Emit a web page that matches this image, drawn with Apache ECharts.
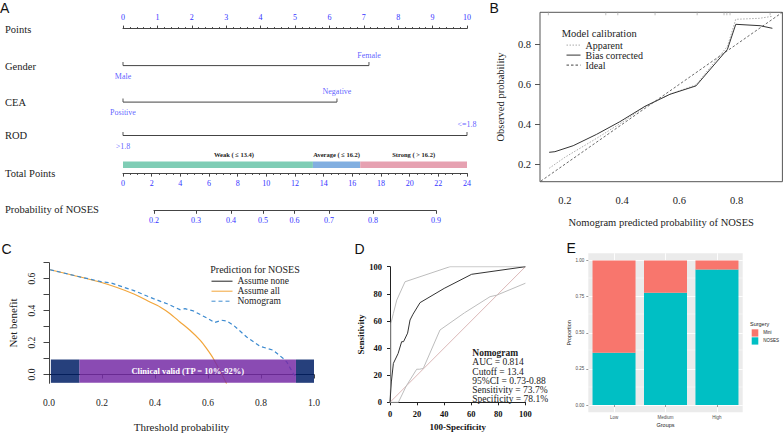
<!DOCTYPE html>
<html><head><meta charset="utf-8">
<script src="https://cdn.jsdelivr.net/npm/echarts@6/dist/echarts.min.js"></script>
<style>html,body{margin:0;padding:0;background:#fff}#c{width:784px;height:434px}</style>
</head><body><div id="c"></div>
<script>
const SERIF = '"Liberation Serif", "Times New Roman", serif';
const SANS = '"Liberation Sans", Arial, sans-serif';
const BLUE = '#3434ff';
const AX = '#444';

// ---------- Panel A: nomogram data ----------
const pointsRange = [0, 10];
const totalRange = [0, 24];
const genderLevels = ['Male', 'Female'];
const genderPoints = [0, 7.15];
const ceaLevels = ['Positive', 'Negative'];
const ceaPoints = [0, 6.22];
const rodLevels = ['>1.8', '<=1.8'];
const rodPoints = [0, 10];
const riskLabels = ['Weak ( \u2264 13.4)', 'Average ( \u2264 16.2)', 'Strong ( > 16.2)'];
const riskBreaks = [0, 13.25, 16.55, 24];
const riskColors = ['#7fcdb5', '#82afe0', '#e6a1b1'];
const probLabels = ['0.2', '0.3', '0.4', '0.5', '0.6', '0.7', '0.8', '0.9'];
const probTotalPoints = [2.16, 5.09, 7.54, 9.77, 11.97, 14.37, 17.44, 21.84];

// ---------- Panel B: calibration ----------
const calTicks = [0.2, 0.4, 0.6, 0.8];
const calPredApp = [0.145, 0.2, 0.311, 0.4, 0.48, 0.567, 0.658, 0.768, 0.797, 0.88, 0.925];
const calObsApp  = [0.18, 0.235, 0.33, 0.41, 0.488, 0.55, 0.597, 0.79, 0.925, 0.93, 0.94];
const calPredBias = [0.145, 0.165, 0.229, 0.311, 0.392, 0.48, 0.567, 0.658, 0.768, 0.797, 0.882, 0.925];
const calObsBias  = [0.26, 0.263, 0.293, 0.35, 0.413, 0.49, 0.55, 0.592, 0.775, 0.9, 0.893, 0.88];
const calRug = [0.142, 0.343, 0.385, 0.515, 0.662, 0.756, 0.766, 0.777, 0.917];

// ---------- Panel C: decision curve ----------
const dcaThrAll = [0.004, 0.192, 0.318, 0.381, 0.419, 0.457, 0.494, 0.532, 0.57, 0.595, 0.62, 0.67];
const dcaNbAll  = [0.656, 0.579, 0.506, 0.454, 0.423, 0.381, 0.329, 0.277, 0.215, 0.162, 0.1, -0.056];
const dcaThrNomo = [0.004, 0.12, 0.2, 0.23, 0.318, 0.394, 0.45, 0.494, 0.513, 0.545, 0.6, 0.625, 0.65, 0.67, 0.695, 0.746, 0.796, 0.846, 0.884, 0.897, 0.922, 0.93];
const dcaNbNomo  = [0.656, 0.61, 0.58, 0.575, 0.527, 0.475, 0.44, 0.406, 0.412, 0.398, 0.35, 0.325, 0.34, 0.335, 0.31, 0.235, 0.177, 0.152, 0.1, 0.079, 0.006, -0.01];
const dcaNone = [[0, 0], [1, 0]];
const bandEdges = [0.007, 0.115, 0.932, 1.0];
const bandRange = [-0.052, 0.094];
const bandText = 'Clinical valid (TP = 10%-92%)';

// ---------- Panel D: ROC ----------
const rocFpr  = [0, 1, 2.5, 6, 8.6, 10, 13, 14.8, 17, 22.2, 40, 60.3, 100];
const rocSens = [0, 15, 28.7, 36, 44.7, 44.7, 51, 60.7, 65, 73.5, 84, 94.4, 100];
const rocUpFpr  = [0, 0.7, 0.7, 2.5, 5, 11.1, 44.3, 100];
const rocUpSens = [0, 20, 58.3, 65.6, 75.4, 88.9, 100, 100];
const rocLoFpr  = [0, 6.2, 12, 19.7, 22, 24.6, 36.9, 55, 73.9, 78.8, 100];
const rocLoSens = [0, 0, 12, 24.4, 24.4, 25, 53.3, 66, 77.9, 79, 87.8];
const rocText = ['AUC = 0.814', 'Cutoff = 13.4', '95%CI = 0.73-0.88', 'Sensitivity = 73.7%', 'Specificity = 78.1%'];

// ---------- Panel E: stacked proportions ----------
const groups = ['Low', 'Medium', 'High'];
const propNOSES = [0.362, 0.777, 0.938];
const propMini  = [0.638, 0.223, 0.062];
const propTicks = [0, 0.25, 0.5, 0.75, 1];
const propMinor = [0.125, 0.375, 0.625, 0.875];

const zip = (a, b) => a.map((v, i) => [v, b[i]]);

const grids = [], xAxes = [], yAxes = [], series = [], graphics = [], legends = [];
function addGrid(g, xa, ya) {
  grids.push(Object.assign({ containLabel: false }, g));
  const i = grids.length - 1;
  xAxes.push(Object.assign({ gridIndex: i, splitLine: { show: false } }, xa));
  yAxes.push(Object.assign({ gridIndex: i, splitLine: { show: false } }, ya));
  return i;
}
function txt(x, y, text, size, opts) {
  graphics.push({ type: 'text', x: x, y: y, silent: true, style: Object.assign({ text: text, fontSize: size, fontFamily: SERIF, fill: '#222', align: 'left', verticalAlign: 'middle' }, opts || {}) });
}
const hiddenSym = { color: 'rgba(0,0,0,0)', borderColor: 'rgba(0,0,0,0)', borderWidth: 0, opacity: 0 };

// ----- Panel A layout -----
const NL = 123, NW = 344;
const axLine = { show: true, lineStyle: { color: AX, width: 1 } };
const blueLbl = { color: BLUE, fontFamily: SERIF, fontSize: 8 };

addGrid({ left: NL, width: NW, top: 27.6, height: 1 },
  { type: 'value', position: 'top', min: pointsRange[0], max: pointsRange[1], interval: 1, axisLine: axLine,
    axisTick: { show: true, length: 3, lineStyle: { color: AX } },
    minorTick: { show: true, splitNumber: 5, length: 1.5, lineStyle: { color: AX } },
    axisLabel: Object.assign({ margin: 6 }, blueLbl) },
  { type: 'value', show: false, min: 0, max: 1 });

function varRow(lineY, pts, levels) {
  const gi = addGrid({ left: NL, width: NW, top: lineY - 5, height: 10 },
    { type: 'value', min: pointsRange[0], max: pointsRange[1], show: false },
    { type: 'value', min: -1, max: 1, show: false });
  series.push({ type: 'line', xAxisIndex: gi, yAxisIndex: gi, data: pts.map(p => [p, 0]), symbol: 'rect', symbolSize: [0.9, 3.5], symbolOffset: [0, -1.75], showSymbol: true, lineStyle: { color: AX, width: 1 }, itemStyle: { color: AX }, silent: true });
  series.push({ type: 'scatter', xAxisIndex: gi, yAxisIndex: gi, symbolSize: 0.01, itemStyle: { color: 'rgba(0,0,0,0)' }, silent: true,
    data: pts.map((p, k) => ({ value: [p, 0], label: { position: k % 2 ? 'top' : 'bottom' } })),
    label: Object.assign({ show: true, distance: 6.5, formatter: d => levels[d.dataIndex] }, blueLbl) });
}
varRow(65.6, genderPoints, genderLevels);
varRow(102.1, ceaPoints, ceaLevels);
varRow(135.5, rodPoints, rodLevels);

const gBar = addGrid({ left: NL, width: NW, top: 161.4, height: 6.6 },
  { type: 'value', min: totalRange[0], max: totalRange[1], show: false },
  { type: 'category', data: ['risk'], show: false });
riskLabels.forEach((name, k) => series.push({
  type: 'bar', stack: 'risk', xAxisIndex: gBar, yAxisIndex: gBar, barWidth: '100%', silent: true,
  data: [riskBreaks[k + 1] - riskBreaks[k]], itemStyle: { color: riskColors[k] },
  label: { show: true, position: 'top', distance: 3.5, formatter: name, fontFamily: SERIF, fontWeight: 'bold', fontSize: 6.5, color: '#222', offset: k === 0 ? [16, 0] : [0, 0] }
}));

addGrid({ left: NL, width: NW, top: 172.2, height: 1 },
  { type: 'value', position: 'bottom', min: totalRange[0], max: totalRange[1], interval: 2, axisLine: axLine,
    axisTick: { show: true, length: 3.4, lineStyle: { color: AX } },
    minorTick: { show: true, splitNumber: 4, length: 1.7, lineStyle: { color: AX } },
    axisLabel: Object.assign({ margin: 6.5 }, blueLbl) },
  { type: 'value', show: false, min: 0, max: 1 });

const pxPerTP = NW / (totalRange[1] - totalRange[0]);
const p0 = probTotalPoints[0], p1 = probTotalPoints[probTotalPoints.length - 1];
addGrid({ left: NL + p0 * pxPerTP, width: (p1 - p0) * pxPerTP, top: 209.4, height: 1 },
  { type: 'value', position: 'bottom', min: p0, max: p1, axisLine: axLine,
    axisTick: { show: true, length: 3.4, customValues: probTotalPoints, lineStyle: { color: AX } },
    axisLabel: Object.assign({ margin: 6, customValues: probTotalPoints, formatter: v => {
      let best = 0; probTotalPoints.forEach((t, i) => { if (Math.abs(t - v) < Math.abs(probTotalPoints[best] - v)) best = i; }); return probLabels[best]; } }, blueLbl) },
  { type: 'value', show: false, min: 0, max: 1 });

[['Points', 29.3], ['Gender', 66.3], ['CEA', 102.8], ['ROD', 135.5], ['Total Points', 173.5], ['Probability of NOSES', 209.7]]
  .forEach(r => txt(5, r[1], r[0], 10.5));

// ----- Panel B -----
const gB = addGrid({ left: 540, top: 12.3, width: 242.4, height: 169.4, show: true, borderColor: '#555', borderWidth: 1, backgroundColor: 'rgba(0,0,0,0)' },
  { type: 'value', min: 0.113, max: 0.96, axisLine: { show: false }, axisTick: { show: false },
    axisLabel: { customValues: calTicks, formatter: v => v.toFixed(1), fontFamily: SERIF, fontSize: 10.5, color: '#222', margin: 13 },
    name: 'Nomogram predicted probability of NOSES', nameLocation: 'middle', nameGap: 35.5, nameTextStyle: { fontFamily: SERIF, fontSize: 10.5, color: '#222' } },
  { type: 'value', min: 0.113, max: 0.96, axisLine: { show: false },
    axisTick: { show: true, customValues: calTicks, length: 5, lineStyle: { color: '#555' } },
    axisLabel: { customValues: calTicks, formatter: v => v.toFixed(1), fontFamily: SERIF, fontSize: 10.5, color: '#222', margin: 9 },
    name: 'Observed probability', nameLocation: 'middle', nameRotate: 90, nameGap: 34, nameTextStyle: { fontFamily: SERIF, fontSize: 10.5, color: '#222' } });
series.push({ name: 'Apparent', type: 'line', xAxisIndex: gB, yAxisIndex: gB, data: zip(calPredApp, calObsApp), symbol: 'none', lineStyle: { color: '#aaa', width: 1, type: [1.5, 1.5] }, itemStyle: { color: '#aaa' }, silent: true });
series.push({ name: 'Bias corrected', type: 'line', xAxisIndex: gB, yAxisIndex: gB, data: zip(calPredBias, calObsBias), symbol: 'none', lineStyle: { color: '#333', width: 1 }, itemStyle: { color: '#333' }, silent: true });
series.push({ name: 'Ideal', type: 'line', xAxisIndex: gB, yAxisIndex: gB, data: [[0, 0], [1, 1]], symbol: 'none', clip: true, lineStyle: { color: '#444', width: 0.8, type: [2.5, 2] }, itemStyle: { color: '#444' }, silent: true });
series.push({ type: 'scatter', xAxisIndex: gB, yAxisIndex: gB, data: calRug.map(v => [v, 0.96]), symbol: 'rect', symbolSize: [0.8, 3.5], symbolOffset: [0, 1.2], itemStyle: { color: '#999' }, silent: true });
legends.push({ data: ['Apparent', 'Bias corrected', 'Ideal'], orient: 'vertical', left: 566, top: 40.1, padding: 0, itemGap: 0, itemWidth: 14, itemHeight: 6,
  itemStyle: hiddenSym, lineStyle: { width: 1 }, textStyle: { fontFamily: SERIF, fontSize: 10, color: '#222', lineHeight: 8.4 }, selectedMode: false });
txt(561.7, 33.3, 'Model calibration', 10.5);

// ----- Panel C -----
const gC = addGrid({ left: 49, top: 262.7, width: 265, height: 120.6 },
  { type: 'value', min: 0, max: 1, interval: 0.2, offset: 7.5, axisLine: axLine,
    axisTick: { show: true, length: 4, lineStyle: { color: AX } },
    axisLabel: { formatter: v => v.toFixed(1), fontFamily: SERIF, fontSize: 9.5, color: '#222', margin: 7 },
    name: 'Threshold probability', nameLocation: 'middle', nameGap: 31, nameTextStyle: { fontFamily: SERIF, fontSize: 11, color: '#222' } },
  { type: 'value', min: -0.055, max: 0.7, axisLine: axLine,
    axisTick: { show: true, length: 5.5, customValues: [0, 0.1, 0.2, 0.3, 0.4, 0.5, 0.6, 0.7], lineStyle: { color: AX } },
    axisLabel: { customValues: [0, 0.2, 0.4, 0.6], formatter: v => v.toFixed(1), rotate: 90, fontFamily: SERIF, fontSize: 9.5, color: '#222', margin: 12 },
    name: 'Net benefit', nameLocation: 'middle', nameRotate: 90, nameGap: 31, nameTextStyle: { fontFamily: SERIF, fontSize: 11, color: '#222' } });
series.push({ name: 'Assume none', type: 'line', xAxisIndex: gC, yAxisIndex: gC, data: dcaNone, symbol: 'none', lineStyle: { color: '#222', width: 1 }, itemStyle: { color: '#222' }, silent: true, z: 2 });
series.push({ name: 'Assume all', type: 'line', xAxisIndex: gC, yAxisIndex: gC, data: zip(dcaThrAll, dcaNbAll), symbol: 'none', smooth: 0.2, lineStyle: { color: '#f2a53a', width: 1.2 }, itemStyle: { color: '#f2a53a' }, silent: true, z: 2 });
series.push({ name: 'Nomogram', type: 'line', xAxisIndex: gC, yAxisIndex: gC, data: zip(dcaThrNomo, dcaNbNomo), symbol: 'none', lineStyle: { color: '#3d8bd0', width: 1.2, type: [4, 3] }, itemStyle: { color: '#3d8bd0' }, silent: true, z: 2 });
const navy = 'rgba(0,30,101,0.85)', purple = 'rgba(118,44,166,0.85)';
series.push({ type: 'line', xAxisIndex: gC, yAxisIndex: gC, data: [], z: 5, silent: true,
  markArea: { silent: true, z: 6, data: [
    [{ xAxis: bandEdges[0], yAxis: bandRange[0], itemStyle: { color: navy } }, { xAxis: bandEdges[1], yAxis: bandRange[1] }],
    [{ xAxis: bandEdges[1], yAxis: bandRange[0], itemStyle: { color: purple }, label: { show: true, position: 'inside', formatter: bandText, color: '#fff', fontFamily: SERIF, fontWeight: 'bold', fontSize: 8.5 } }, { xAxis: bandEdges[2], yAxis: bandRange[1] }],
    [{ xAxis: bandEdges[2], yAxis: bandRange[0], itemStyle: { color: navy } }, { xAxis: bandEdges[3], yAxis: bandRange[1] }]
  ], label: { show: false } } });
legends.push({ data: ['Assume none', 'Assume all', 'Nomogram'], orient: 'vertical', left: 211, top: 276.2, padding: 0, itemGap: 0, itemWidth: 21, itemHeight: 6,
  itemStyle: hiddenSym, lineStyle: { width: 1 }, textStyle: { fontFamily: SERIF, fontSize: 9.5, color: '#222', lineHeight: 9 }, selectedMode: false });
txt(255, 269, 'Prediction for NOSES', 10, { align: 'center' });

// ----- Panel D -----
const bold9 = { fontFamily: SERIF, fontSize: 8.5, fontWeight: 'bold', color: '#111' };
const gD = addGrid({ left: 390, top: 266.7, width: 135.4, height: 135.6 },
  { type: 'value', min: 0, max: 100, interval: 20, offset: 4, axisLine: { show: true, lineStyle: { color: '#222' } },
    axisTick: { show: true, length: 3, lineStyle: { color: '#222' } }, axisLabel: Object.assign({ margin: 3.5 }, bold9),
    name: '100-Specificity', nameLocation: 'middle', nameGap: 16, nameTextStyle: Object.assign({}, bold9, { fontSize: 9 }) },
  { type: 'value', min: 0, max: 100, interval: 20, offset: 3.5, axisLine: { show: true, lineStyle: { color: '#222' } },
    axisTick: { show: true, length: 3, lineStyle: { color: '#222' } }, axisLabel: Object.assign({ margin: 4.5 }, bold9),
    name: 'Sensitivity', nameLocation: 'middle', nameRotate: 90, nameGap: 14, nameTextStyle: Object.assign({}, bold9, { fontSize: 9 }) });
series.push({ type: 'line', xAxisIndex: gD, yAxisIndex: gD, data: [[0, 0], [100, 100]], symbol: 'none', lineStyle: { color: '#dbb7b7', width: 1 }, silent: true });
series.push({ type: 'line', xAxisIndex: gD, yAxisIndex: gD, data: zip(rocUpFpr, rocUpSens), symbol: 'none', lineStyle: { color: '#bdbdbd', width: 1 }, silent: true });
series.push({ type: 'line', xAxisIndex: gD, yAxisIndex: gD, data: zip(rocLoFpr, rocLoSens), symbol: 'none', lineStyle: { color: '#bdbdbd', width: 1 }, silent: true });
series.push({ type: 'line', xAxisIndex: gD, yAxisIndex: gD, data: zip(rocFpr, rocSens), symbol: 'none', lineStyle: { color: '#333', width: 1 }, silent: true });
txt(472.3, 352.7, 'Nomogram', 9.5, { fontWeight: 'bold' });
rocText.forEach((t, i) => txt(472.3, 362.2 + i * 9.3, t, 9.5));

// ----- Panel E -----
const tinyE = { fontFamily: SANS, fontSize: 4.5, color: '#4d4d4d' };
const gE = addGrid({ left: 588.3, top: 253.3, width: 154.4, height: 159, show: true, backgroundColor: '#ebebeb', borderWidth: 0 },
  { type: 'category', data: groups, axisLine: { show: false },
    axisTick: { show: true, alignWithLabel: true, length: 2, lineStyle: { color: '#333', width: 0.5 } },
    axisLabel: Object.assign({ margin: 3 }, tinyE),
    name: 'Groups', nameLocation: 'middle', nameGap: 9.5, nameTextStyle: { fontFamily: SANS, fontSize: 5.5, color: '#222' } },
  { type: 'value', min: -0.05, max: 1.05, axisLine: { show: false },
    axisTick: { show: true, customValues: propTicks, length: 2, lineStyle: { color: '#333', width: 0.5 } },
    axisLabel: Object.assign({ customValues: propTicks, formatter: v => v.toFixed(2), margin: 4 }, tinyE),
    name: 'Proportion', nameLocation: 'middle', nameRotate: 90, nameGap: 14, nameTextStyle: { fontFamily: SANS, fontSize: 5.5, color: '#222' } });
series.push({ type: 'line', xAxisIndex: gE, yAxisIndex: gE, data: [], z: 0, silent: true,
  markLine: { silent: true, z: 0, symbol: 'none', label: { show: false }, animation: false, data:
    propTicks.map(v => ({ yAxis: v, lineStyle: { color: '#fff', width: 0.9, type: 'solid' } }))
    .concat(propMinor.map(v => ({ yAxis: v, lineStyle: { color: '#fff', width: 0.45, type: 'solid' } })))
    .concat(groups.map(g => ({ xAxis: g, lineStyle: { color: '#fff', width: 0.9, type: 'solid' } }))) } });
series.push({ name: 'NOSES', type: 'bar', stack: 'E', xAxisIndex: gE, yAxisIndex: gE, data: propNOSES, barWidth: 43, itemStyle: { color: '#00BFC4' }, silent: true, z: 4 });
series.push({ name: 'Mini', type: 'bar', stack: 'E', xAxisIndex: gE, yAxisIndex: gE, data: propMini, barWidth: 43, itemStyle: { color: '#F8766D' }, silent: true, z: 4 });
legends.push({ data: ['Mini', 'NOSES'], orient: 'vertical', left: 751.7, top: 329.3, padding: 0, itemGap: 0.7, itemWidth: 6.6, itemHeight: 7.3, icon: 'rect',
  textStyle: { fontFamily: SANS, fontSize: 4.5, color: '#222' }, selectedMode: false });
txt(750, 324.3, 'Surgery', 5.5, { fontFamily: SANS });

// ----- Panel letters -----
[['A', 0, 7.5], ['B', 489.5, 8], ['C', 1.5, 249], ['D', 354.5, 249], ['E', 566.5, 248.3]]
  .forEach(l => txt(l[1], l[2], l[0], 14, { fontFamily: SANS, fill: '#111' }));

const chart = echarts.init(document.getElementById('c'), null, { renderer: 'svg', width: 784, height: 434 });
chart.setOption({
  backgroundColor: '#fff', animation: false,
  grid: grids, xAxis: xAxes, yAxis: yAxes, series: series, legend: legends, graphic: graphics
});
</script></body></html>
